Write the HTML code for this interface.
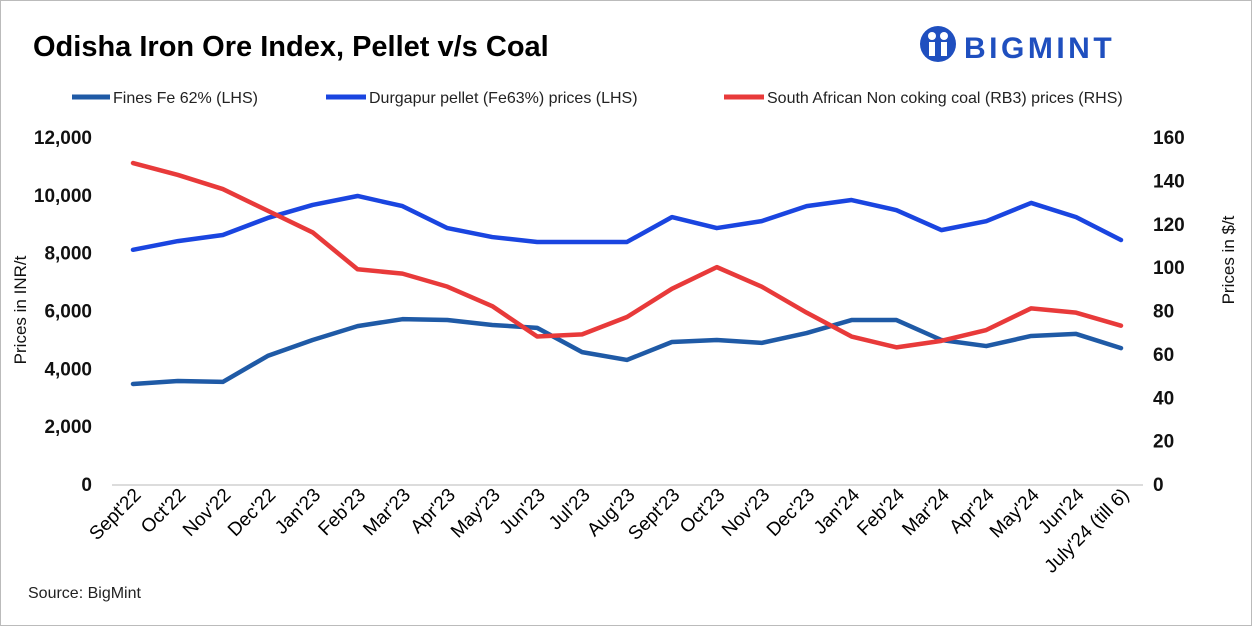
<!DOCTYPE html>
<html><head><meta charset="utf-8"><style>
body{margin:0;background:#fff;font-family:"Liberation Sans",Arial,sans-serif;}
#wrap{position:relative;width:1252px;height:626px;overflow:hidden;}
</style></head><body>
<div id="wrap">
<svg id="chart" width="1252" height="626" xmlns="http://www.w3.org/2000/svg">
<rect x="0.5" y="0.5" width="1251" height="625" fill="#fff" stroke="#bbb"/>
<text x="33" y="56" font-size="29" font-weight="bold" fill="#000">Odisha Iron Ore Index, Pellet v/s Coal</text>
<g>
<circle cx="938" cy="44" r="18" fill="#1f4fbf"/>
<circle cx="932" cy="36" r="4" fill="#fff"/><circle cx="944" cy="36" r="4" fill="#fff"/>
<rect x="929" y="42" width="6" height="14" fill="#fff"/><rect x="941" y="42" width="6" height="14" fill="#fff"/>
<text x="964" y="58" font-size="30" font-weight="bold" fill="#1f4fbf" letter-spacing="3.5">BIGMINT</text>
</g>
<g id="legend" font-size="16" fill="#222">
<g><line x1="72" y1="97" x2="110" y2="97" stroke="#1f5aa6" stroke-width="5"/><text x="113" y="103">Fines Fe 62% (LHS)</text></g>
<g><line x1="326" y1="97" x2="366" y2="97" stroke="#1a45e0" stroke-width="5"/><text x="369" y="103">Durgapur pellet (Fe63%) prices (LHS)</text></g>
<g><line x1="724" y1="97" x2="764" y2="97" stroke="#e83a3a" stroke-width="5"/><text x="767" y="103">South African Non coking coal (RB3) prices (RHS)</text></g>
</g>
<g id="axes"></g>
<g id="series"></g>
<text x="28" y="598" font-size="16" fill="#222">Source: BigMint</text>
</svg>
</div>
<script>
const categories=["Sept'22","Oct'22","Nov'22","Dec'22","Jan'23","Feb'23","Mar'23","Apr'23","May'23","Jun'23","Jul'23","Aug'23","Sept'23","Oct'23","Nov'23","Dec'23","Jan'24","Feb'24","Mar'24","Apr'24","May'24","Jun'24","July'24 (till 6)"];
const fines=[3460,3560,3530,4430,4980,5460,5700,5670,5500,5400,4560,4290,4910,4980,4880,5220,5670,5670,4980,4770,5120,5190,4700];
const pellet=[8100,8400,8610,9200,9650,9960,9610,8850,8540,8370,8370,8370,9230,8850,9090,9610,9820,9470,8780,9090,9720,9230,8440];
const coal=[148,142.5,136,126,116,99,97,91,82,68,69,77,90,100,91,79,68,63,66,71,81,79,73];
const leftTicks=[0,2000,4000,6000,8000,10000,12000];
const rightTicks=[0,20,40,60,80,100,120,140,160];
const NS="http://www.w3.org/2000/svg";
const y0=484,yTop=137;
const x=i=>133+i*(1121-133)/(categories.length-1);
const yL=v=>y0-(v/12000)*(y0-yTop);
const yR=v=>y0-(v/160)*(y0-yTop);
const axes=document.getElementById('axes'),series=document.getElementById('series');
function mk(tag,attrs,parent){const e=document.createElementNS(NS,tag);for(const k in attrs)e.setAttribute(k,attrs[k]);parent.appendChild(e);return e;}
leftTicks.forEach(v=>{const t=mk('text',{x:92,y:yL(v)+7,'font-size':19,'font-weight':'bold','text-anchor':'end',fill:'#111'},axes);t.textContent=v.toLocaleString('en-US');

});
rightTicks.forEach(v=>{const t=mk('text',{x:1153,y:yR(v)+7,'font-size':19,'font-weight':'bold',fill:'#111'},axes);t.textContent=v;

});
const yl=mk('text',{x:0,y:0,'font-size':17,fill:'#111','text-anchor':'middle',transform:'translate(26,310) rotate(-90)'},axes);yl.textContent='Prices in INR/t';


const yr=mk('text',{x:0,y:0,'font-size':17,fill:'#111','text-anchor':'middle',transform:'translate(1234,260) rotate(-90)'},axes);yr.textContent='Prices in $/t';


const base=mk('line',{x1:112,y1:y0+1,x2:1143,y2:y0+1,stroke:'#d0d0d0','stroke-width':1.5},axes);


categories.forEach((c,i)=>{const t=mk('text',{x:0,y:0,'font-size':19,fill:'#000','text-anchor':'end',transform:`translate(${x(i)+9},${y0+12}) rotate(-45)`},axes);t.textContent=c;

});
function line(data,fy,color,name){const p=mk('polyline',{points:data.map((v,i)=>x(i)+','+fy(v)).join(' '),fill:'none',stroke:color,'stroke-width':4.5,'stroke-linejoin':'round','stroke-linecap':'round'},series);

}
line(fines,yL,'#1f5aa6','fines-line');
line(pellet,yL,'#1a45e0','pellet-line');
line(coal,yR,'#e83a3a','coal-line');
</script>
</body></html>
